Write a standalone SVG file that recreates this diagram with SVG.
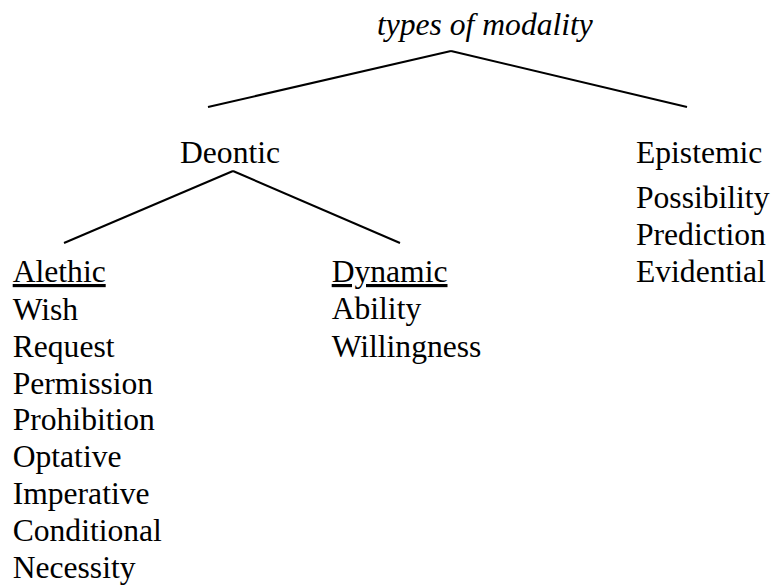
<svg xmlns="http://www.w3.org/2000/svg" width="773" height="585" viewBox="0 0 773 585" font-family="'Liberation Serif', 'DejaVu Serif', serif">
<style>
text{font-family:'Liberation Serif','DejaVu Serif',serif;font-size:31.6px;fill:#000}
.it{font-style:italic}
.u{text-decoration:underline}
line{stroke:#000;stroke-width:2;stroke-linecap:butt}
</style>
<rect width="773" height="585" fill="#fff"/>
<g id="connectors">
<line x1="451" y1="51" x2="208" y2="107"/>
<line x1="451" y1="51" x2="687" y2="107"/>
<line x1="233" y1="171" x2="64" y2="243"/>
<line x1="233" y1="171" x2="400" y2="243"/>
</g>
<g id="root"><text class="it" x="377" y="35">types of modality</text></g>
<g id="deontic"><text x="180" y="163">Deontic</text></g>
<g id="epistemic">
<text x="636" y="163">Epistemic</text>
<text x="636" y="208">Possibility</text>
<text x="636" y="245">Prediction</text>
<text x="636" y="282">Evidential</text>
</g>
<g id="alethic">
<text class="u" x="12.7" y="282">Alethic</text>
<text x="12.7" y="320">Wish</text>
<text x="12.7" y="357">Request</text>
<text x="12.7" y="393.5">Permission</text>
<text x="12.7" y="430">Prohibition</text>
<text x="12.7" y="467">Optative</text>
<text x="12.7" y="503.5">Imperative</text>
<text x="12.7" y="540.5">Conditional</text>
<text x="12.7" y="577.5">Necessity</text>
</g>
<g id="dynamic">
<text class="u" x="331.7" y="282">Dynamic</text>
<text x="331.7" y="318.5">Ability</text>
<text x="331.7" y="357">Willingness</text>
</g>
</svg>
